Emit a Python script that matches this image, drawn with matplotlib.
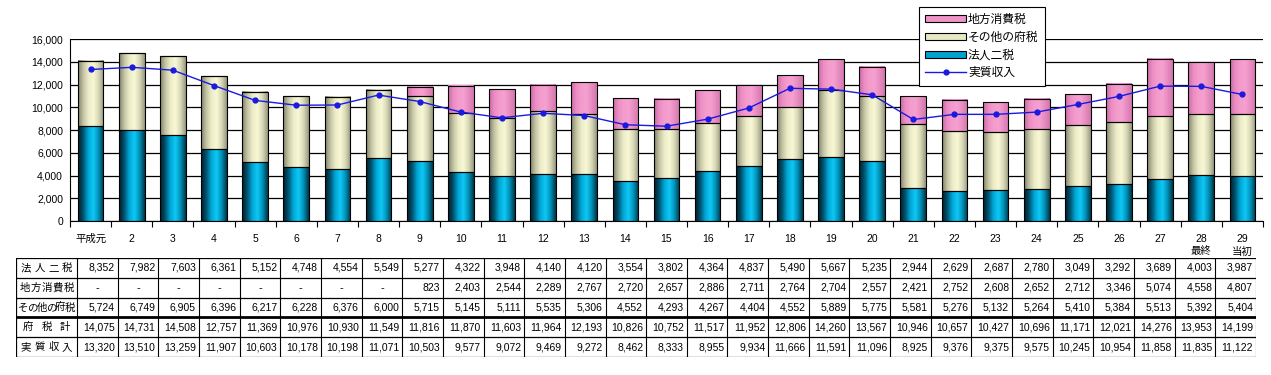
import numpy as np
import matplotlib
matplotlib.use('Agg')
import matplotlib.pyplot as plt
from matplotlib.colors import LinearSegmentedColormap
from matplotlib.patches import Patch
from matplotlib.lines import Line2D

plt.rcParams['font.family'] = ['Liberation Sans', 'Noto Sans CJK JP']

# データ（単位：億円）
years = ['平成元', '2', '3', '4', '5', '6', '7', '8', '9', '10', '11', '12', '13', '14', '15',
         '16', '17', '18', '19', '20', '21', '22', '23', '24', '25', '26', '27', '28\n最終', '29\n当初']
houjin = [8352, 7982, 7603, 6361, 5152, 4748, 4554, 5549, 5277, 4322, 3948, 4140, 4120, 3554, 3802,
          4364, 4837, 5490, 5667, 5235, 2944, 2629, 2687, 2780, 3049, 3292, 3689, 4003, 3987]
chihou = [0, 0, 0, 0, 0, 0, 0, 0, 823, 2403, 2544, 2289, 2767, 2720, 2657,
          2886, 2711, 2764, 2704, 2557, 2421, 2752, 2608, 2652, 2712, 3346, 5074, 4558, 4807]
sonota = [5724, 6749, 6905, 6396, 6217, 6228, 6376, 6000, 5715, 5145, 5111, 5535, 5306, 4552, 4293,
          4267, 4404, 4552, 5889, 5775, 5581, 5276, 5132, 5264, 5410, 5384, 5513, 5392, 5404]
fuzei_kei = [14075, 14731, 14508, 12757, 11369, 10976, 10930, 11549, 11816, 11870, 11603, 11964, 12193, 10826, 10752,
             11517, 11952, 12806, 14260, 13567, 10946, 10657, 10427, 10696, 11171, 12021, 14276, 13953, 14199]
jisshitsu = [13320, 13510, 13259, 11907, 10603, 10178, 10198, 11071, 10503, 9577, 9072, 9469, 9272, 8462, 8333,
             8955, 9934, 11666, 11591, 11096, 8925, 9376, 9375, 9575, 10245, 10954, 11858, 11835, 11122]

row_labels = ['法人二税', '地方消費税', 'その他の府税', '府税計', '実質収入']

W, H = 1271, 375
fig = plt.figure(figsize=(W / 100, H / 100), dpi=100)

# グラフ部分
ax = fig.add_axes([70 / W, 1 - 221 / H, (1263 - 70) / W, (221 - 39) / H])
x = np.arange(len(years))
bw = 0.625

cmap_blue = LinearSegmentedColormap.from_list('b', ['#001c28', '#005470', '#00a8d8', '#10c8f4', '#0090b8', '#003848'])
cmap_khaki = LinearSegmentedColormap.from_list('k', ['#80806a', '#c4c4a4', '#ececc8', '#f8f8d4', '#d8d8b8', '#98987e'])
cmap_pink = LinearSegmentedColormap.from_list('p', ['#c86ca4', '#ec8cc4', '#f49ccc', '#f4a0d0', '#e88cc0', '#d078ac'])
grad = np.linspace(0, 1, 64).reshape(1, -1)


def grad_bars(bottom, values, cmap):
    bars = ax.bar(x, values, bw, bottom=bottom, facecolor='none', edgecolor='black', linewidth=0.8, zorder=3)
    for b, v in zip(bars, values):
        if v <= 0:
            continue
        ax.imshow(grad, cmap=cmap, aspect='auto', zorder=2, interpolation='bilinear',
                  extent=[b.get_x(), b.get_x() + b.get_width(), b.get_y(), b.get_y() + b.get_height()])


houjin_a = np.array(houjin)
sonota_a = np.array(sonota)
chihou_a = np.array(chihou)
grad_bars(0, houjin_a, cmap_blue)
grad_bars(houjin_a, sonota_a, cmap_khaki)
grad_bars(houjin_a + sonota_a, chihou_a, cmap_pink)

ax.plot(x, jisshitsu, color='#1a1ae0', lw=1, marker='o', ms=3.5, zorder=4)

ax.set_xlim(-0.5, len(years) - 0.5)
ax.set_ylim(0, 16000)
ax.set_yticks(np.arange(0, 16001, 2000))
ax.set_yticklabels([f'{v:,}' for v in range(0, 16001, 2000)], fontsize=7.5)
ax.yaxis.grid(True, color='black', lw=0.9)
ax.set_axisbelow(True)
ax.set_xticks(x)
ax.set_xticklabels(years, fontsize=7.5, va='top', linespacing=1.35)
ax.set_xticks(np.arange(-0.5, len(years)), minor=True)
ax.tick_params(axis='x', which='major', length=0, pad=9)
ax.tick_params(axis='x', which='minor', length=4, width=0.8, direction='out')
ax.tick_params(axis='y', length=0, pad=5)
ax.spines['right'].set_visible(False)
ax.spines['top'].set_visible(False)

# 凡例
handles = [Patch(facecolor='#f094c8', edgecolor='black', lw=0.8),
           Patch(facecolor='#e8e8c4', edgecolor='black', lw=0.8),
           Patch(facecolor='#00a0d0', edgecolor='black', lw=0.8),
           Line2D([], [], color='#1a1ae0', lw=1, marker='o', ms=3.5)]
leg = fig.legend(handles, ['地方消費税', 'その他の府税', '法人二税', '実質収入'],
                 loc='upper left', bbox_to_anchor=(919 / W, 1 - 7 / H), fontsize=8.5,
                 frameon=True, fancybox=False, edgecolor='black', framealpha=1,
                 handlelength=3.4, handleheight=0.55, handletextpad=0.2, labelspacing=0.5,
                 borderpad=0.55, borderaxespad=0)
leg.get_frame().set_linewidth(0.8)

# 表部分
tx0, tx1, ty0, ty1 = 16, 1256, 258, 357
tab = fig.add_axes([tx0 / W, 1 - ty1 / H, (tx1 - tx0) / W, (ty1 - ty0) / H])
tab.set_xlim(tx0, tx1)
tab.set_ylim(ty1, ty0)
tab.axis('off')

lab_w = 77
col_w = (tx1 - lab_w) / len(years)
row_h = (ty1 - ty0) / len(row_labels)

rows = [houjin, chihou, sonota, fuzei_kei, jisshitsu]
for r, (name, vals) in enumerate(zip(row_labels, rows)):
    yc = ty0 + (r + 0.5) * row_h
    # 行ラベルは均等割付
    n = len(name)
    left, right = tx0 + 3, lab_w - 3
    step = (right - left) / n
    for k, ch in enumerate(name):
        tab.text(left + (k + 0.5) * step, yc, ch, ha='center', va='center', fontsize=7.5)
    for c, v in enumerate(vals):
        xr = lab_w + (c + 1) * col_w - 3
        if r == 1 and v == 0:
            tab.text(lab_w + (c + 0.5) * col_w, yc, '-', ha='center', va='center', fontsize=8)
        else:
            tab.text(xr, yc, f'{v:,}', ha='right', va='center', fontsize=7.5)

for r in range(len(row_labels) + 1):
    y = ty0 + r * row_h
    tab.plot([tx0, tx1], [y, y], color='black', lw=2 if r == 3 else 0.9)
for c in range(len(years) + 1):
    xx = lab_w + c * col_w
    tab.plot([xx, xx], [ty0, ty1], color='black', lw=0.8)
tab.plot([tx0, tx0], [ty0, ty1], color='black', lw=0.9)

fig.savefig('out.png', dpi=100)
